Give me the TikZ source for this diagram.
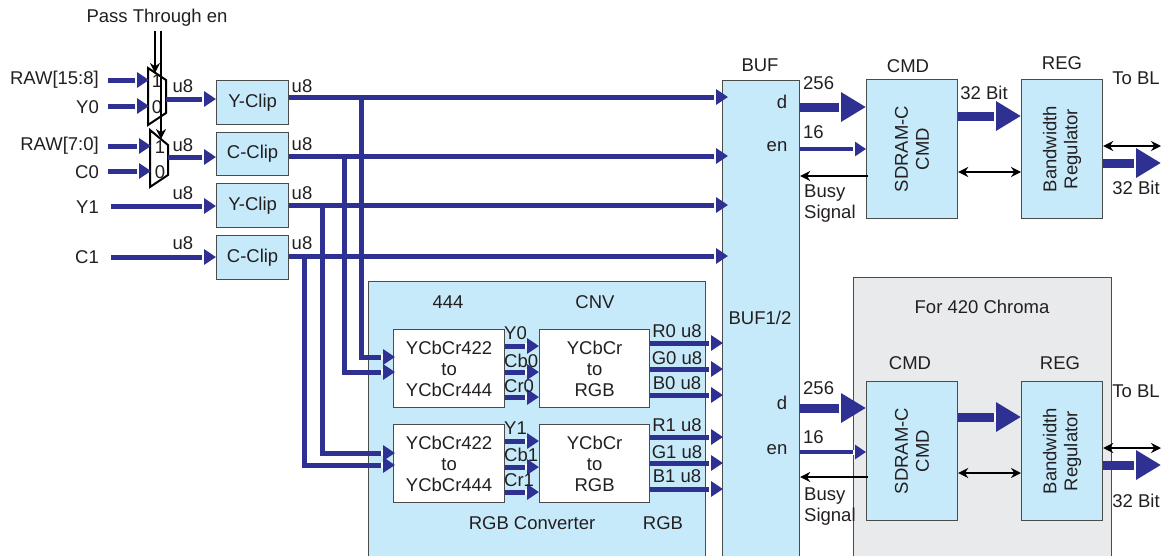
\documentclass[tikz,border=0pt]{standalone}
\usepackage{fontspec}
\setmainfont{Liberation Sans}
\usetikzlibrary{arrows.meta,calc}
\definecolor{bblue}{RGB}{46,49,146}
\definecolor{lblue}{RGB}{199,234,250}
\definecolor{gbox}{RGB}{233,234,236}
\definecolor{edgec}{RGB}{75,75,75}
\definecolor{txt}{RGB}{35,31,32}
\tikzset{
 box/.style={draw=edgec, fill=lblue, line width=1.2pt, inner sep=0pt, text=txt},
 wbox/.style={draw=edgec, fill=white, line width=1.2pt, inner sep=0pt, align=center, text=txt},
 gray box/.style={draw=edgec, fill=gbox, line width=1.2pt, inner sep=0pt},
 lbl/.style={text=txt, inner sep=0pt},
 bus/.style={draw=bblue, line width=5pt},
 busarr/.style={bus, -{Rectangle[length=1.6pt,width=6pt,color=white,fill=white]Triangle[length=12pt,width=15pt]}},
 bigarr/.style={draw=bblue, line width=9pt, -{Rectangle[length=2.2pt,width=10pt,color=white,fill=white]Triangle[length=25pt,width=28pt]}},
 enarr/.style={draw=bblue, line width=4pt, -{Rectangle[length=1.6pt,width=5pt,color=white,fill=white]Triangle[length=11pt,width=14pt]}},
 sig/.style={draw=black, line width=1.6pt, -{Stealth[length=10pt,width=10pt]}},
 dsig/.style={draw=black, line width=1.6pt, {Stealth[length=10pt,width=10pt]}-{Stealth[length=10pt,width=10pt]}},
 muxs/.style={draw=black, line width=2pt},
}
\begin{document}
\begin{tikzpicture}[x=1pt,y=-1pt,font=\fontsize{18.5}{21}\selectfont]
\useasboundingbox (0,0) rectangle (1162,555);
\clip (0,0) rectangle (1162,555);
\fill[white] (0,0) rectangle (1162,555);

% ---------- row levels ----------
\coordinate (rA) at (0,97);
\coordinate (rB) at (0,156);
\coordinate (rC) at (0,205);
\coordinate (rD) at (0,256);

% ---------- inputs ----------
\node[lbl,anchor=east] (raw158) at (99,80) {RAW[15:8]};
\node[lbl,anchor=east] (y0in) at (99,107) {Y0};
\node[lbl,anchor=east] (raw70) at (99,146) {RAW[7:0]};
\node[lbl,anchor=east] (c0in) at (99,172) {C0};
\node[lbl,anchor=east] (y1in) at (99,207) {Y1};
\node[lbl,anchor=east] (c1in) at (99,257) {C1};

% ---------- muxes ----------
\draw[muxs] (148,68) -- (166,80) -- (166,113) -- (148,125) -- cycle;
\draw[muxs] (150,130) -- (168,145) -- (168,175) -- (150,187) -- cycle;
\coordinate (m1i1) at (149,80);
\coordinate (m1i0) at (149,106);
\coordinate (m2i1) at (151,146);
\coordinate (m2i0) at (151,171);
\coordinate (m1o) at (166,99);
\coordinate (m2o) at (168,157);
\node[lbl] (m1one) at (157,81) {1};
\node[lbl] (m1zero) at (157,107) {0};
\node[lbl] (m2one) at (160,147) {1};
\node[lbl] (m2zero) at (160,172) {0};

% pass through enable
\node[lbl] (pte) at (157,18) {Pass Through en};
\coordinate (pt1) at (155,31);
\coordinate (pt2) at (161,31);
\coordinate (m1top) at (155,73);
\coordinate (m2top) at (161,139);
\draw[sig] (pt1) -- (m1top);
\draw[sig] (pt2) -- (m2top);

% ---------- clip boxes ----------
\node[box,anchor=north west,minimum width=72,minimum height=44] (yc1) at (216,80) {Y-Clip};
\node[box,anchor=north west,minimum width=72,minimum height=43] (cc1) at (216,132) {C-Clip};
\node[box,anchor=north west,minimum width=72,minimum height=44] (yc2) at (216,183) {Y-Clip};
\node[box,anchor=north west,minimum width=72,minimum height=44] (cc2) at (216,235) {C-Clip};

% input arrows
\draw[busarr] ($(raw158.east)+(9,0)$) -- (m1i1);
\draw[busarr] ($(y0in.east)+(9,-1)$) -- (m1i0);
\draw[busarr] ($(raw70.east)+(9,0)$) -- (m2i1);
\draw[busarr] ($(c0in.east)+(9,-1)$) -- (m2i0);
\draw[busarr] ($(y1in.east)+(12,-1)$) -- (yc2.west |- 0,206);
\draw[busarr] ($(c1in.east)+(12,0)$) -- (cc2.west |- 0,257);
\draw[busarr] (m1o) -- (yc1.west |- m1o);
\draw[busarr] (m2o) -- (cc1.west |- m2o);

% u8 labels
\node[lbl] (u8a) at (183,86) {u8};
\node[lbl] (u8b) at (183,145) {u8};
\node[lbl] (u8c) at (183,193) {u8};
\node[lbl] (u8d) at (183,243) {u8};
\node[lbl] (u8e) at (302,86) {u8};
\node[lbl] (u8f) at (302,144) {u8};
\node[lbl] (u8g) at (302,193) {u8};
\node[lbl] (u8h) at (302,243) {u8};

% ---------- BUF ----------
\node[box,anchor=north west,minimum width=77,minimum height=500] (buf) at (722,80) {};
\node[lbl] (buflbl) at (760,65) {BUF};
\node[lbl] (buf12) at (760,318) {BUF1/2};
\node[lbl] (bufd1) at (782,102) {d};
\node[lbl] (bufen1) at (777,147) {en};
\node[lbl] (bufd2) at (782,403) {d};
\node[lbl] (bufen2) at (777,450) {en};

% ---------- RGB converter ----------
\node[box,anchor=north west,minimum width=337,minimum height=300] (rgbc) at (368,281) {};
\node[lbl] (l444) at (448,302) {444};
\node[lbl] (lcnv) at (595,302) {CNV};
\node[lbl] (lrgbc) at (532,523) {RGB Converter};
\node[lbl] (lrgb) at (663,523) {RGB};
\node[wbox,anchor=north west,minimum width=111,minimum height=78] (ya) at (393,329) {YCbCr422\\to\\YCbCr444};
\node[wbox,anchor=north west,minimum width=111,minimum height=78] (yb) at (393,424) {YCbCr422\\to\\YCbCr444};
\node[wbox,anchor=north west,minimum width=110,minimum height=78] (ra) at (539,329) {YCbCr\\to\\RGB};
\node[wbox,anchor=north west,minimum width=110,minimum height=78] (rb) at (539,424) {YCbCr\\to\\RGB};

% clip outputs to BUF
\draw[busarr] (yc1.east |- rA) -- ($(buf.west |- rA)+(6,0)$);
\draw[busarr] (cc1.east |- rB) -- ($(buf.west |- rB)+(6,0)$);
\draw[busarr] (yc2.east |- rC) -- ($(buf.west |- rC)+(6,0)$);
\draw[busarr] (cc2.east |- rD) -- ($(buf.west |- rD)+(6,0)$);

% drops to converter
\coordinate (jA) at (361,97);
\coordinate (jB) at (344,156);
\coordinate (jC) at (322,205);
\coordinate (jD) at (304,256);
\draw[busarr] (jA) |- ($(ya.west |- 0,357)+(2,0)$);
\draw[busarr] (jB) |- ($(ya.west |- 0,372)+(2,0)$);
\draw[busarr] (jC) |- ($(yb.west |- 0,453)+(2,0)$);
\draw[busarr] (jD) |- ($(yb.west |- 0,465)+(2,0)$);

% inner arrows
\foreach \yy/\nm/\ly in {346/Y0/333,372/Cb0/361,397/Cr0/386}{
  \draw[busarr] (ya.east |- 0,\yy) -- (ra.west |- 0,\yy);
  \node[lbl,anchor=west] at (504,\ly) {\nm};
}
\foreach \yy/\nm/\ly in {441/Y1/428,467/Cb1/455,492/Cr1/480}{
  \draw[busarr] (yb.east |- 0,\yy) -- (rb.west |- 0,\yy);
  \node[lbl,anchor=west] at (504,\ly) {\nm};
}
% outputs
\foreach \yy/\nm/\ly in {343/R0/331,369/G0/358,395/B0/383}{
  \draw[busarr] (ra.east |- 0,\yy) -- ($(buf.west |- 0,\yy)+(1,0)$);
  \node[lbl] at (677,\ly) {\nm{} u8};
}
\foreach \yy/\nm/\ly in {437/R1/425,463/G1/452,489/B1/476}{
  \draw[busarr] (rb.east |- 0,\yy) -- ($(buf.west |- 0,\yy)+(1,0)$);
  \node[lbl] at (677,\ly) {\nm{} u8};
}

% ---------- top CMD / REG ----------
\node[box,anchor=north west,minimum width=91,minimum height=139] (cmd1) at (866,79) {};
\node[lbl,rotate=90,align=center] (cmd1t) at (cmd1.center) {SDRAM-C\\CMD};
\node[box,anchor=north west,minimum width=81,minimum height=139] (reg1) at (1021,79) {};
\node[lbl,rotate=90,align=center] (reg1t) at (reg1.center) {Bandwidth\\Regulator};
\node[lbl] (cmd1l) at (908,66) {CMD};
\node[lbl] (reg1l) at (1062,63) {REG};
\node[lbl,anchor=west] (n256a) at (803,83) {256};
\node[lbl,anchor=west] (n16a) at (803,132) {16};
\node[lbl,anchor=west,align=left] (busya) at (804,204) {Busy\\Signal};
\node[lbl] (b32a) at (984,93) {32 Bit};
\node[lbl] (tobla) at (1136,78) {To BL};
\node[lbl] (o32a) at (1136,188) {32 Bit};
\draw[bigarr] (buf.east |- 0,107) -- (cmd1.west |- 0,107);
\draw[enarr] (buf.east |- 0,149) -- (cmd1.west |- 0,149);
\draw[sig] ($(cmd1.west |- 0,176)+(2,0)$) -- (buf.east |- 0,176);
\draw[bigarr] (cmd1.east |- 0,116) -- (reg1.west |- 0,116);
\draw[dsig] (cmd1.east |- 0,172) -- (reg1.west |- 0,172);
\coordinate (blA) at (1161,146);
\coordinate (outA) at (1161,163);
\draw[dsig] (reg1.east |- blA) -- (blA);
\draw[bigarr] (reg1.east |- outA) -- (outA);

% ---------- For 420 Chroma ----------
\node[gray box,anchor=north west,minimum width=258,minimum height=300] (g420) at (853,277) {};
\node[lbl] (g420l) at (982,307) {For 420 Chroma};
\node[box,anchor=north west,minimum width=91,minimum height=139] (cmd2) at (866,381) {};
\node[lbl,rotate=90,align=center] (cmd2t) at (cmd2.center) {SDRAM-C\\CMD};
\node[box,anchor=north west,minimum width=81,minimum height=139] (reg2) at (1021,381) {};
\node[lbl,rotate=90,align=center] (reg2t) at (reg2.center) {Bandwidth\\Regulator};
\node[lbl] (cmd2l) at (910,363) {CMD};
\node[lbl] (reg2l) at (1060,363) {REG};
\node[lbl,anchor=west] (n256b) at (803,388) {256};
\node[lbl,anchor=west] (n16b) at (803,437) {16};
\node[lbl,anchor=west,align=left] (busyb) at (804,507) {Busy\\Signal};
\node[lbl] (toblb) at (1136,391) {To BL};
\node[lbl] (o32b) at (1136,501) {32 Bit};
\draw[bigarr] (buf.east |- 0,408) -- (cmd2.west |- 0,408);
\draw[enarr] (buf.east |- 0,452) -- (cmd2.west |- 0,452);
\draw[sig] ($(cmd2.west |- 0,477)+(2,0)$) -- (buf.east |- 0,477);
\draw[bigarr] (cmd2.east |- 0,417) -- (reg2.west |- 0,417);
\draw[dsig] (cmd2.east |- 0,473) -- (reg2.west |- 0,473);
\coordinate (blB) at (1161,448);
\coordinate (outB) at (1161,465);
\draw[dsig] (reg2.east |- blB) -- (blB);
\draw[bigarr] (reg2.east |- outB) -- (outB);
\end{tikzpicture}
\end{document}
